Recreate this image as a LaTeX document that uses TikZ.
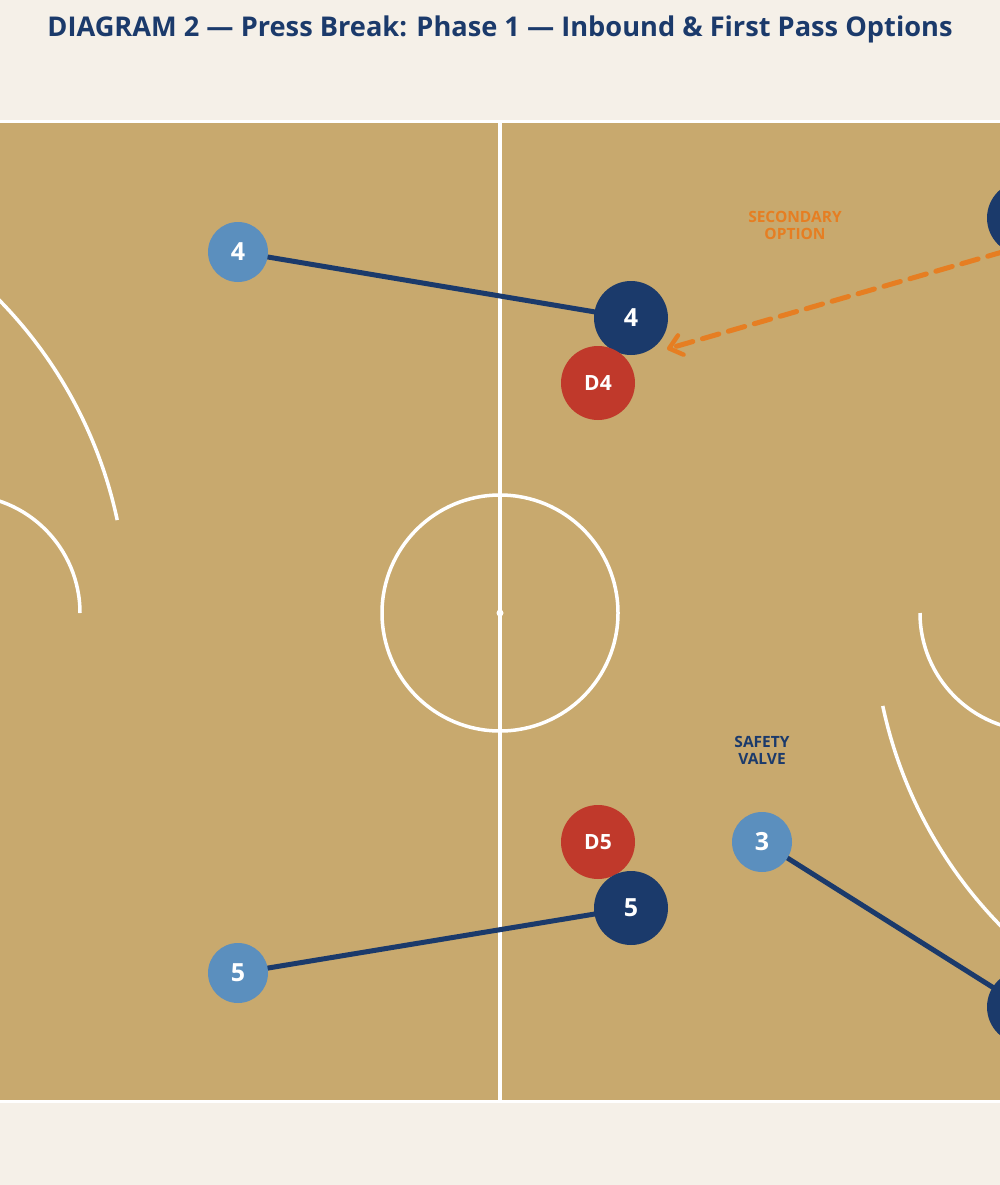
\documentclass[tikz,border=0pt]{standalone}
\usepackage{fontspec}
\setmainfont{Open Sans}
\usetikzlibrary{arrows.meta}
\definecolor{bgcream}{HTML}{F5F0E8}
\definecolor{courtc}{HTML}{C8A96E}
\definecolor{navy}{HTML}{1B3A6B}
\definecolor{lblue}{HTML}{5B8FBE}
\definecolor{dred}{HTML}{C0392B}
\definecolor{orng}{HTML}{E67E22}
\tikzset{
  courtline/.style={white,line width=3.5pt},
  offense/.style={circle,fill=navy,minimum size=74pt,inner sep=0pt,text=white,font=\bfseries\fontsize{25}{25}\selectfont},
  target/.style={circle,fill=lblue,minimum size=60pt,inner sep=0pt,text=white,font=\bfseries\fontsize{25}{25}\selectfont},
  defense/.style={circle,fill=dred,minimum size=74pt,inner sep=0pt,text=white,font=\bfseries\fontsize{21}{21}\selectfont},
  passline/.style={navy,line width=5pt},
  optline/.style={orng,line width=5pt,line cap=round,dash pattern=on 17pt off 10pt,-{Straight Barb[length=12pt,width=20pt,line width=4.5pt,round]}},
  notelabel/.style={font=\bfseries\fontsize{15.5}{17}\selectfont,align=center,inner sep=0pt}
}
\begin{document}
\begin{tikzpicture}[x=1pt,y=-1pt]
\useasboundingbox (0,0) rectangle (1000,1185);
\fill[bgcream] (0,0) rectangle (1000,1185);
% court
\fill[courtc] (0,120) rectangle (1000,1103);
\begin{scope}
\clip (0,120) rectangle (1000,1103);
\draw[courtline] (0,121.5) -- (1000,121.5);
\draw[courtline] (0,1101.5) -- (1000,1101.5);
\draw[courtline] (500,120) -- (500,1103);
\draw[courtline] (500,613) circle[radius=118];
\fill[white] (500,613) circle[radius=3.5];
\draw[courtline] (-320,613) ++(-62:447) arc[start angle=-62,end angle=-12,radius=447];
\draw[courtline] (-38,613) ++(-90:118) arc[start angle=-90,end angle=0,radius=118];
\draw[courtline] (1320,613) ++(168:447) arc[start angle=168,end angle=118,radius=447];
\draw[courtline] (1038,613) ++(180:118) arc[start angle=180,end angle=90,radius=118];
\end{scope}
% title
\node[font=\bfseries\fontsize{27.2}{27.2}\selectfont,text=navy] (title) at (500,29) {DIAGRAM 2 — Press Break: Phase 1 — Inbound \& First Pass Options};
% players
\coordinate (l4) at (238,252);
\coordinate (o4) at (631,318);
\coordinate (l5) at (238,973);
\coordinate (o5) at (631,908);
\coordinate (l3) at (762,842);
\coordinate (ob) at (1024,1007);
\coordinate (otr) at (1024,218);
\coordinate (src) at (1030,244);
\draw[passline] (l4) -- (o4);
\draw[passline] (l5) -- (o5);
\draw[passline] (l3) -- (ob);
\node[offense] (n4) at (o4) {4};
\node[defense] (d4) at (598,383) {D4};
\node[target] (t4) at (l4) {4};
\node[defense] (d5) at (598,842) {D5};
\node[offense] (n5) at (o5) {5};
\node[target] (t5) at (l5) {5};
\node[target] (t3) at (l3) {3};
\node[offense] (nb) at (ob) {};
\node[offense] (ntr) at (otr) {};
\coordinate (arrend) at (667,349);
\draw[optline] (src) -- (arrend);
\node[notelabel,text=orng] (sec) at (795,225) {SECONDARY\\OPTION};
\node[notelabel,text=navy] (safe) at (762,750) {SAFETY\\VALVE};
\end{tikzpicture}
\end{document}
